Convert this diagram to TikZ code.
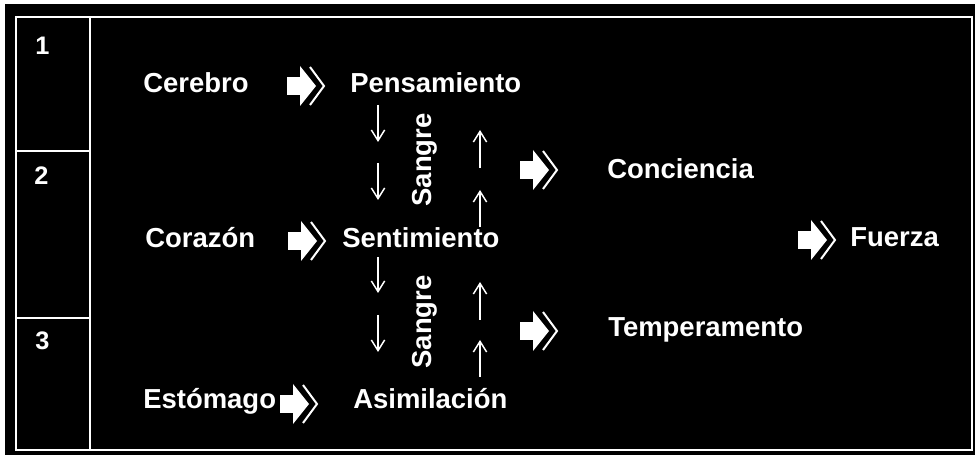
\documentclass[tikz,border=0pt]{standalone}
\usepackage{fontspec}
\setmainfont{Liberation Sans}
\usetikzlibrary{arrows.meta}

\tikzset{
	lbl/.style={anchor=base west, inner sep=0pt, text=white, font=\fontsize{20.6}{24}\selectfont\bfseries},
	num/.style={lbl, font=\fontsize{19}{22}\selectfont\bfseries},
	flujo/.style={draw=white, line width=1.1pt, -{Straight Barb[length=8pt,width=10pt,line width=1.1pt]}},
	flecha/.pic={
		\fill[white] (0,-9) rectangle (14,9);
		\fill[white] (13,-20) -- (29,0) -- (13,20) -- cycle;
		\draw[white, line width=1.5pt] (23,-19) -- (37,0) -- (23,19);
	}
}

\begin{document}
\begin{tikzpicture}[x=0.75pt, y=-0.75pt]
		\useasboundingbox (0,0) rectangle (976,456);
		\fill[white] (0,0) rectangle (976,456);
		\fill[black] (5,4) rectangle (975,455);
		% marco
		\draw[white, line width=1.5pt] (16,17) rectangle (972,450);
		\draw[white, line width=1.5pt] (90,17) -- (90,450);
		\draw[white, line width=1.5pt] (16,151) -- (90,151);
		\draw[white, line width=1.5pt] (16,318) -- (90,318);
		\node[num] (n1) at (35,55) {1};
		\node[num] (n2) at (34,185) {2};
		\node[num] (n3) at (35,350) {3};
		% organos
		\node[lbl] (cer) at (143,93) {Cerebro};
		\node[lbl] (cor) at (145,248) {Corazón};
		\node[lbl] (est) at (143,408) {Estómago};
		\node[lbl] (pen) at (350,93) {Pensamiento};
		\node[lbl] (sen) at (342,248) {Sentimiento};
		\node[lbl] (asi) at (353,408) {Asimilación};
		\node[lbl] (con) at (607,179) {Conciencia};
		\node[lbl] (tem) at (608,337) {Temperamento};
		\node[lbl] (fue) at (850,247) {Fuerza};
		\pic at (287,86) {flecha};
		\pic at (288,241) {flecha};
		\pic at (280,404) {flecha};
		\pic at (520,170) {flecha};
		\pic at (520,331) {flecha};
		\pic at (798,240) {flecha};
		% sangre
		\node[lbl, anchor=center, rotate=90] (san1) at (425,160) {Sangre};
		\node[lbl, anchor=center, rotate=90] (san2) at (425,322) {Sangre};
		\coordinate (d1) at (378,105); \coordinate (d2) at (378,142);
		\coordinate (d3) at (378,163); \coordinate (d4) at (378,200);
		\coordinate (d5) at (378,257); \coordinate (d6) at (378,293);
		\coordinate (d7) at (378,315); \coordinate (d8) at (378,352);
		\coordinate (u1) at (480,168); \coordinate (u2) at (480,130);
		\coordinate (u3) at (480,227); \coordinate (u4) at (480,190);
		\coordinate (u5) at (480,320); \coordinate (u6) at (480,282);
		\coordinate (u7) at (480,377); \coordinate (u8) at (480,340);
		\draw[flujo] (d1) -- (d2);
		\draw[flujo] (d3) -- (d4);
		\draw[flujo] (d5) -- (d6);
		\draw[flujo] (d7) -- (d8);
		\draw[flujo] (u1) -- (u2);
		\draw[flujo] (u3) -- (u4);
		\draw[flujo] (u5) -- (u6);
		\draw[flujo] (u7) -- (u8);
	\end{tikzpicture}
\end{document}
